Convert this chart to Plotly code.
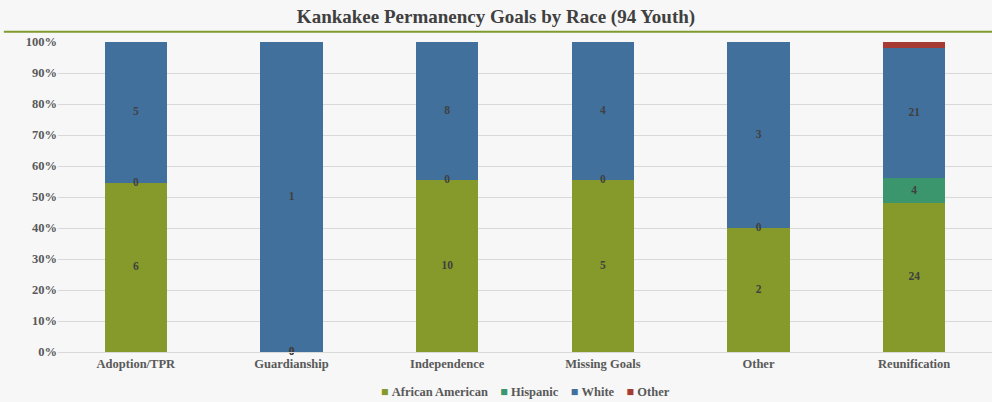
import numpy as np
import plotly.graph_objects as go

categories = ["Adoption/TPR", "Guardianship", "Independence", "Missing Goals", "Other", "Reunification"]
african_american = [6, 0, 10, 5, 2, 24]
hispanic = [0, 0, 0, 0, 0, 4]
white = [5, 1, 8, 4, 3, 21]
other = [0, 0, 0, 0, 0, 1]

series = [
    ("African American", african_american, "#859A2A", True),
    ("Hispanic", hispanic, "#3B966E", True),
    ("White", white, "#41709D", True),
    ("Other", other, "#A53B33", False),
]

totals = np.sum([s[1] for s in series], axis=0)
FONT = "Liberation Serif"

fig = go.Figure()
base = np.zeros(len(categories))
lab_x, lab_y, lab_t = [], [], []
for name, vals, color, labelled in series:
    vals = np.array(vals, dtype=float)
    pct = vals / totals * 100
    fig.add_trace(go.Bar(
        x=categories, y=pct, name=name, showlegend=False,
        marker=dict(color=color, line=dict(width=0)),
        hoverinfo="skip",
    ))
    if labelled:
        lab_x += categories
        lab_y += list(base + pct / 2)
        lab_t += [str(int(v)) for v in vals]
    base = base + pct

fig.add_trace(go.Scatter(
    x=lab_x, y=lab_y, text=lab_t, mode="text", showlegend=False,
    texttemplate="<b>%{text}</b>",
    textfont=dict(family=FONT, size=11.5, color="#404040"),
    hoverinfo="skip", cliponaxis=False,
))

# compact legend, as in the original (small squares next to the names)
legend_text = "&nbsp;&nbsp;&nbsp;&nbsp;".join(
    f"<span style='color:{c}'>■</span>&nbsp;<b>{n}</b>" for n, _, c, _ in series
)

fig.update_layout(
    barmode="stack", bargap=0.6,
    width=992, height=402,
    paper_bgcolor="#F7F7F7", plot_bgcolor="#F7F7F7",
    margin=dict(l=58, r=0, t=42, b=50),
    title=dict(text="<b>Kankakee Permanency Goals by Race (94 Youth)</b>",
               x=0.5, xanchor="center", y=0.96, yanchor="middle",
               font=dict(family=FONT, size=19, color="#404040")),
    font=dict(family=FONT, color="#595959"),
    xaxis=dict(tickfont=dict(size=12.5, color="#595959"), showline=True,
               linecolor="#D9D9D9", linewidth=1, ticks="",
               tickprefix="<b>", ticksuffix="</b>"),
    yaxis=dict(range=[0, 100], dtick=10, gridcolor="#D9D9D9",
               tickfont=dict(size=12.5, color="#595959"), zeroline=False,
               tickprefix="<b>", ticksuffix="%</b>"),
    showlegend=False,
    annotations=[dict(text=legend_text, xref="paper", yref="paper", x=0.5, y=-0.129,
                      xanchor="center", yanchor="middle", showarrow=False,
                      font=dict(family=FONT, size=12.5, color="#595959"))],
    shapes=[dict(type="line", xref="paper", yref="paper", x0=-0.058, x1=1.0,
                 y0=1.033, y1=1.033, line=dict(color="#7F9A2E", width=2))],
)

fig.write_html("out.html", config={"displayModeBar": False},
               post_script="document.body.style.margin='0';")
